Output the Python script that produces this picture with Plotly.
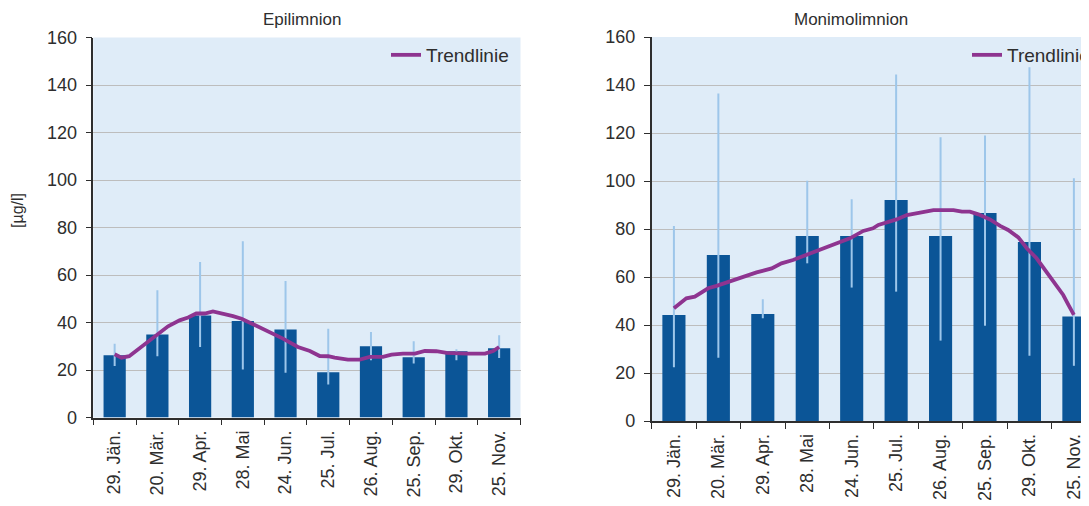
import plotly.graph_objects as go

categories = ["29. Jän.", "20. Mär.", "29. Apr.", "28. Mai", "24. Jun.",
              "25. Jul.", "26. Aug.", "25. Sep.", "29. Okt.", "25. Nov."]

# Epilimnion
epi_mean = [26.2, 35.0, 43.0, 40.6, 37.1, 19.1, 30.0, 25.4, 27.9, 29.2]
epi_max = [31.1, 53.6, 65.5, 74.2, 57.5, 37.4, 36.0, 32.1, 28.7, 34.6]
epi_min = [21.7, 25.8, 29.7, 20.2, 18.8, 13.9, 24.1, 22.7, 24.1, 25.1]
epi_trend_x = [0, 0.16, 0.34, 0.47, 0.70, 0.98, 1.25, 1.52, 1.72, 1.91, 2.11, 2.30,
               2.54, 2.77, 2.97, 3.16, 3.40, 3.67, 3.94, 4.29, 4.57, 4.80, 5.00,
               5.15, 5.46, 5.74, 5.97, 6.28, 6.48, 6.75, 7.03, 7.26, 7.53, 7.77,
               8.00, 8.24, 8.47, 8.67, 8.86, 9.0]
epi_trend_y = [26.6, 25.2, 25.8, 27.6, 30.4, 34.6, 38.4, 40.9, 42.1, 43.8, 43.8, 44.7,
               43.8, 42.7, 41.6, 40.0, 37.7, 35.3, 33.2, 29.7, 28.0, 25.9, 25.8,
               25.2, 24.4, 24.4, 25.5, 25.5, 26.5, 26.9, 26.9, 28.0, 27.9, 27.2,
               26.9, 26.9, 26.9, 26.9, 28.0, 29.7]

# Monimolimnion
mon_mean = [44.2, 69.2, 44.6, 77.1, 77.1, 92.1, 77.1, 86.7, 74.6, 43.5]
mon_max = [81.3, 136.5, 50.7, 100.1, 92.4, 144.4, 118.2, 119.0, 147.4, 101.1]
mon_min = [22.4, 26.4, 42.8, 65.7, 55.6, 53.9, 33.5, 39.7, 27.2, 23.0]
mon_trend_x = [0, 0.28, 0.47, 0.77, 0.96, 1.22, 1.41, 1.59, 1.86, 2.20, 2.42, 2.68,
               2.98, 3.28, 3.51, 3.73, 3.96, 4.26, 4.48, 4.60, 4.86, 5.01, 5.24,
               5.46, 5.72, 5.84, 6.06, 6.29, 6.48, 6.66, 6.85, 7.11, 7.34, 7.52,
               7.75, 7.94, 8.16, 8.35, 8.54, 8.76, 8.88, 9.0]
mon_trend_y = [47.0, 51.1, 51.8, 55.3, 56.3, 58.0, 59.0, 60.5, 61.9, 63.6, 65.7, 67.1,
               69.2, 71.3, 73.3, 74.7, 76.1, 79.2, 80.3, 81.7, 83.0, 84.0, 85.8,
               86.5, 87.2, 87.9, 87.9, 87.9, 87.2, 87.2, 86.1, 84.0, 81.3, 79.6,
               76.5, 72.0, 67.8, 62.9, 58.0, 52.5, 48.3, 44.2]

titles = ["Epilimnion", "Monimolimnion"]
y_ticks = [0, 20, 40, 60, 80, 100, 120, 140, 160]

BAR = "#0B5597"
ERR = "#9DC6EA"
TREND = "#8E3490"
BG = "#DFECF8"
GRID = "#BDBDBD"
AXIS = "#2E2E2E"
FONT = "Liberation Sans, Arial, sans-serif"

# the page body has an 8px margin; the figure fills the rest of the window
OFF = 8
W, H = 1089 - OFF, 506 - OFF
idx = list(range(len(categories)))


def px(x):
    return (x - OFF) / W


def py(y):
    return (H - (y - OFF)) / H


fig = go.Figure()

panels = [
    (epi_mean, epi_max, epi_min, epi_trend_x, epi_trend_y, "x", "y", "legend"),
    (mon_mean, mon_max, mon_min, mon_trend_x, mon_trend_y, "x2", "y2", "legend2"),
]
for mean, mx, mn, tx, ty, xa, ya, lg in panels:
    fig.add_trace(go.Bar(
        x=idx, y=mean, xaxis=xa, yaxis=ya, width=0.52,
        marker=dict(color=BAR, line=dict(width=0)),
        error_y=dict(type="data", symmetric=False,
                     array=[a - m for a, m in zip(mx, mean)],
                     arrayminus=[m - b for m, b in zip(mean, mn)],
                     color=ERR, thickness=2, width=0),
        showlegend=False, hoverinfo="skip"))
    fig.add_trace(go.Scatter(
        x=tx, y=ty, xaxis=xa, yaxis=ya, mode="lines", name="Trendlinie",
        line=dict(color=TREND, width=3.8),
        legend=lg, showlegend=True))


def xaxis_cfg(domain, rng, anchor):
    return dict(domain=domain, range=rng, anchor=anchor, automargin=False,
                tickvals=idx, ticktext=categories, tickangle=-90,
                ticks="", showgrid=False, zeroline=False,
                showline=True, linecolor=AXIS, linewidth=1.5,
                ticklabelstandoff=4,
                tickfont=dict(size=18, color=AXIS, family=FONT),
                minor=dict(tickvals=[i - 0.5 for i in range(len(categories) + 1)],
                           ticks="outside", ticklen=6, tickcolor=AXIS,
                           tickwidth=1, showgrid=False))


def yaxis_cfg(domain, anchor):
    return dict(domain=domain, range=[0, 160], anchor=anchor, automargin=False,
                tickvals=y_ticks, ticks="outside", ticklen=6, tickcolor=AXIS,
                ticklabelstandoff=5,
                showgrid=True, gridcolor=GRID, gridwidth=1, zeroline=False,
                showline=True, linecolor=AXIS, linewidth=1.5,
                tickfont=dict(size=18, color=AXIS, family=FONT))


fig.update_layout(
    template="none",
    width=W, height=H,
    margin=dict(l=0, r=0, t=0, b=0, autoexpand=False),
    paper_bgcolor="white", plot_bgcolor=BG,
    font=dict(family=FONT, color=AXIS),
    xaxis=xaxis_cfg([px(93.3), px(520.5)], [-0.5, 9.5], "y"),
    yaxis=yaxis_cfg([py(417.5), py(37.5)], "x"),
    xaxis2=xaxis_cfg([px(651.7), 1.0], [-0.5, 9.34], "y2"),
    yaxis2=yaxis_cfg([py(421), py(37)], "x2"),
    legend=dict(x=px(386), y=py(36), xanchor="left", yanchor="top",
                bgcolor="rgba(0,0,0,0)", font=dict(size=19, color=AXIS, family=FONT),
                itemwidth=30),
    legend2=dict(x=px(967), y=py(36), xanchor="left", yanchor="top",
                 bgcolor="rgba(0,0,0,0)", font=dict(size=19, color=AXIS, family=FONT),
                 itemwidth=30),
    annotations=[
        dict(text=titles[0], x=px(302), y=py(20), xref="paper", yref="paper",
             showarrow=False, xanchor="center", yanchor="middle",
             font=dict(size=17, color=AXIS, family=FONT)),
        dict(text=titles[1], x=px(851), y=py(20), xref="paper", yref="paper",
             showarrow=False, xanchor="center", yanchor="middle",
             font=dict(size=17, color=AXIS, family=FONT)),
        dict(text="[µg/l]", x=px(18), y=py(211), xref="paper", yref="paper",
             showarrow=False, xanchor="center", yanchor="middle", textangle=-90,
             font=dict(size=16, color=AXIS, family=FONT)),
    ],
)

fig.write_html("out.html")
